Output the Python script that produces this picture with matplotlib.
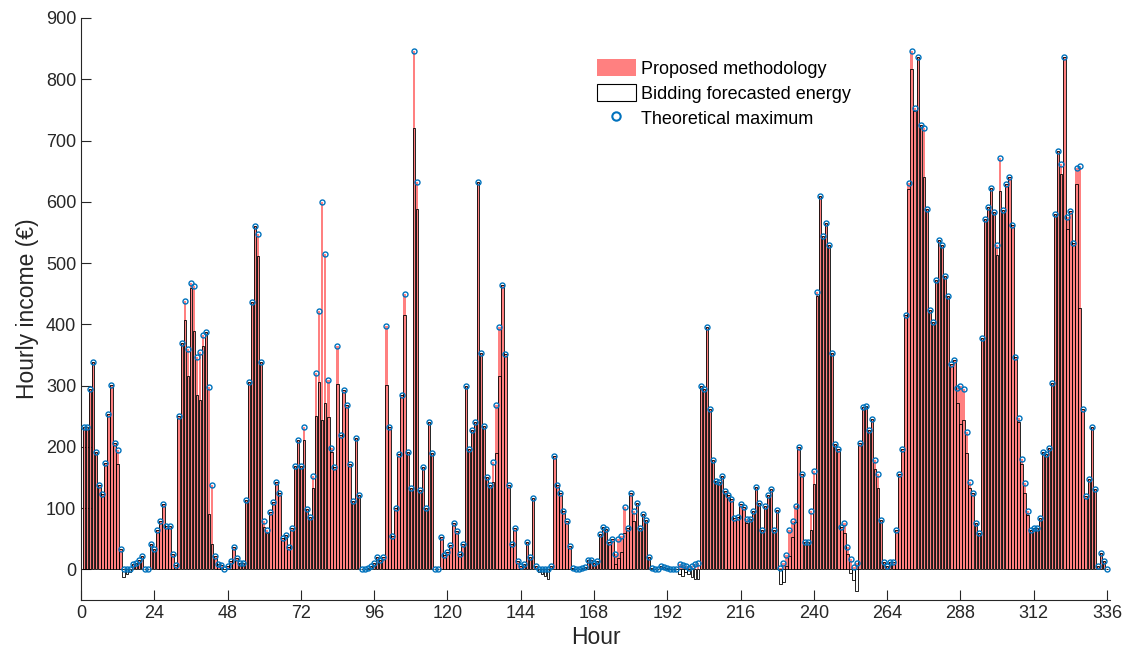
import numpy as np
import matplotlib
matplotlib.use("Agg")
import matplotlib.pyplot as plt
from matplotlib.patches import Patch
from matplotlib.lines import Line2D

plt.rcParams['font.family'] = ['Liberation Sans', 'DejaVu Sans']

# Theoretical maximum (hours 1..336)
theoretical = [
    233, 233, 294, 338, 192, 138, 123, 174, 254, 301, 206, 195, 33, 0, 0, 0, 9, 11, 16, 22,
    0, 0, 42, 33, 65, 79, 107, 71, 71, 25, 7, 251, 369, 438, 360, 468, 463, 346, 355, 383,
    387, 298, 137, 22, 9, 7, 1, 5, 13, 36, 18, 11, 10, 113, 306, 437, 560, 548, 339, 79,
    65, 94, 110, 142, 125, 51, 56, 36, 68, 169, 211, 169, 233, 99, 86, 152, 320, 422, 599, 514,
    309, 198, 167, 364, 219, 292, 269, 172, 111, 214, 121, 0, 0, 3, 5, 10, 21, 15, 21, 398,
    233, 54, 100, 188, 284, 450, 192, 133, 846, 632, 130, 167, 100, 241, 190, 0, 0, 53, 24, 28,
    39, 76, 62, 25, 42, 299, 196, 227, 240, 633, 354, 234, 150, 137, 175, 269, 395, 464, 352, 137,
    41, 67, 13, 5, 9, 45, 21, 116, 5, 0, 0, 0, 0, 5, 185, 137, 125, 95, 79, 38,
    2, 0, 1, 3, 4, 15, 15, 10, 13, 58, 70, 66, 44, 50, 25, 50, 54, 102, 68, 125,
    95, 108, 68, 91, 81, 21, 2, 1, 1, 5, 4, 2, 1, 1, 0, 9, 7, 5, 3, 5,
    8, 10, 300, 295, 396, 262, 178, 145, 142, 153, 128, 121, 115, 84, 85, 107, 102, 83, 83, 96,
    134, 108, 65, 103, 122, 132, 65, 97, 2, 11, 23, 64, 79, 103, 200, 156, 44, 45, 95, 160,
    453, 609, 544, 565, 529, 353, 205, 196, 70, 75, 36, 17, 4, 11, 206, 265, 267, 227, 246, 178,
    156, 81, 12, 5, 12, 12, 65, 155, 197, 415, 630, 846, 753, 837, 726, 720, 589, 423, 404, 472,
    538, 529, 479, 447, 336, 342, 296, 299, 294, 224, 142, 125, 75, 60, 378, 572, 592, 623, 583, 529,
    672, 586, 629, 640, 562, 347, 247, 180, 141, 96, 64, 67, 67, 84, 192, 189, 198, 304, 580, 683,
    662, 837, 575, 585, 532, 655, 659, 261, 120, 148, 232, 132, 5, 26, 13, 1,
]

# Proposed methodology: reaches the theoretical maximum almost everywhere
proposed = list(theoretical)

# Bidding forecasted energy: equal to proposed except these hours
bidding_diff = {
    12: 172, 14: -12, 15: -8, 16: -5, 34: 407, 35: 315, 36: 460, 37: 389, 38: 284, 39: 277,
    40: 365, 42: 90, 43: 41, 58: 511, 60: 70, 61: 59, 73: 211, 76: 133, 77: 251, 78: 306,
    79: 244, 80: 272, 81: 249, 82: 192, 84: 302, 100: 301, 106: 415, 109: 721, 110: 588,
    135: 142, 136: 190, 137: 316, 150: -5, 151: -8, 152: -10, 153: -15,
    175: 9, 176: 19, 177: 28, 178: 59, 181: 79, 196: -8, 197: -10, 198: -5, 199: -8,
    200: -12, 201: -15, 202: -15, 218: 75, 229: -24, 230: -20, 231: 5, 232: 22, 233: 53,
    234: 78, 239: 65, 240: 139, 241: 446, 250: 60, 251: 25, 252: -6, 253: -18, 254: -36,
    260: 164, 261: 133, 271: 621, 272: 817, 273: 749, 276: 640, 287: 272, 288: 238,
    289: 244, 290: 190, 291: 133, 300: 513, 301: 617, 307: 240, 308: 172, 309: 125,
    310: 88, 321: 645, 323: 555, 326: 629, 327: 426,
}
hours = np.arange(1, len(theoretical) + 1)
bidding = [bidding_diff.get(int(h), proposed[i]) for i, h in enumerate(hours)]

fig = plt.figure(figsize=(11.26, 6.59), dpi=100)
ax = fig.add_axes([0.0719, 0.0895, 0.914, 0.8832])

red = (1.0, 0.5, 0.5)
blue = (0.0, 0.447, 0.741)
ax.bar(hours, proposed, width=0.8, color=red, edgecolor='none', zorder=2)
ax.bar(hours, bidding, width=0.8, facecolor='none', edgecolor='black', linewidth=0.6, zorder=3)
ax.plot(hours, theoretical, linestyle='none', marker='o', markersize=3.6,
        markerfacecolor='none', markeredgecolor=blue, markeredgewidth=1.0, zorder=4)

ax.set_xlim(0, 337)
ax.set_ylim(-50, 900)
ax.set_xticks(np.arange(0, 337, 24))
ax.set_yticks(np.arange(0, 901, 100))
ax.tick_params(direction='in', length=7, width=0.8, labelsize=13, colors='#262626')
for s in ['top', 'right']:
    ax.spines[s].set_visible(False)
for s in ['left', 'bottom']:
    ax.spines[s].set_linewidth(0.8)
    ax.spines[s].set_color('#262626')

ax.set_xlabel('Hour', fontsize=16.5, color='#262626', labelpad=3)
ax.set_ylabel('Hourly income (€)', fontsize=16.5, color='#262626', labelpad=5)

handles = [
    Patch(facecolor=red, edgecolor='none'),
    Patch(facecolor='white', edgecolor='black', linewidth=0.8),
    Line2D([], [], linestyle='none', marker='o', markersize=6, markerfacecolor='none',
           markeredgecolor=blue, markeredgewidth=1.5),
]
labels = ['Proposed methodology', 'Bidding forecasted energy', 'Theoretical maximum']
leg = ax.legend(handles, labels, loc='upper left', bbox_to_anchor=(0.501, 0.93),
                frameon=False, fontsize=13, handlelength=2.2, handleheight=1.1,
                handletextpad=0.25, labelspacing=0.35, borderaxespad=0, borderpad=0)

fig.savefig('out.png', dpi=100)
